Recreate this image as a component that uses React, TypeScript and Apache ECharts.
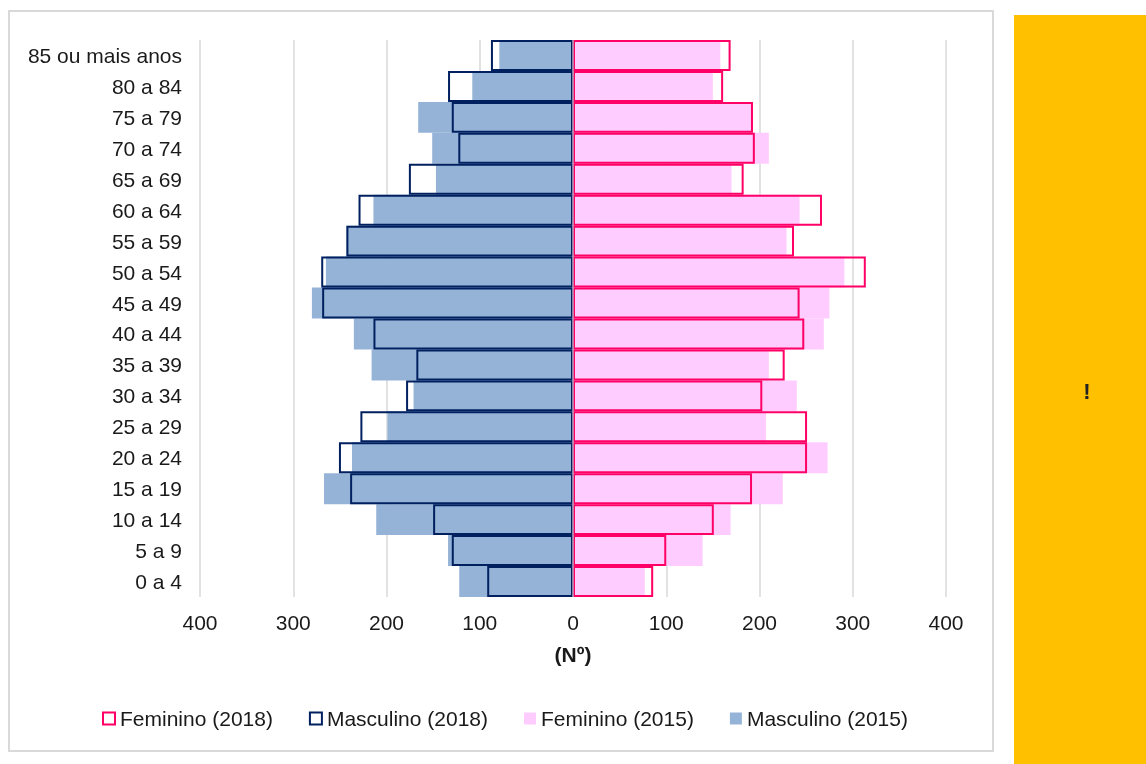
import React, { useEffect, useRef } from "react";
import * as echarts from "echarts";

const categories = [
  "0 a 4", "5 a 9", "10 a 14", "15 a 19", "20 a 24", "25 a 29", "30 a 34", "35 a 39", "40 a 44",
  "45 a 49", "50 a 54", "55 a 59", "60 a 64", "65 a 69", "70 a 74", "75 a 79", "80 a 84", "85 ou mais anos",
];
const masculino2015 = [122, 134, 211, 267, 237, 199, 171, 216, 235, 280, 265, 243, 214, 147, 151, 166, 108, 79];
const masculino2018 = [92, 130, 150, 239, 251, 228, 179, 168, 214, 269, 270, 243, 230, 176, 123, 130, 134, 88];
const feminino2015 = [77, 139, 169, 225, 273, 207, 240, 210, 269, 275, 291, 229, 243, 170, 210, 192, 150, 158];
const feminino2018 = [86, 100, 151, 192, 251, 251, 203, 227, 248, 243, 314, 237, 267, 183, 195, 193, 161, 169];
const xTicks = { min: -400, max: 400, interval: 100 };

const FONT = "'Liberation Sans', Arial, sans-serif";
const NAVY = "#002060";
const RED = "#FF0066";
const BLUE = "#95B3D7";
const PINK = "#FFCCFF";
const FS = 21;

export default function App() {
  const ref = useRef<HTMLDivElement>(null);
  useEffect(() => {
    if (!ref.current) return;
    const chart = echarts.init(ref.current, undefined, { renderer: "svg" });
    chart.setOption({
      animation: false,
      textStyle: { fontFamily: FONT },
      graphic: [
        { type: "rect", z: -10, shape: { x: 9, y: 11, width: 984, height: 740 }, style: { fill: "#fff", stroke: "#D9D9D9", lineWidth: 2 } },
        { type: "rect", z: -10, shape: { x: 1014, y: 15, width: 132, height: 749 }, style: { fill: "#FFC000" } },
        { type: "text", x: 1087, y: 391, style: { text: "!", fontSize: 22, fontWeight: "bold", fill: "#222", align: "center", verticalAlign: "middle", fontFamily: FONT } },
      ],
      grid: { left: 200, right: 200, top: 40, bottom: 167, containLabel: false },
      legend: {
        left: 97,
        top: 703,
        itemWidth: 12,
        itemHeight: 12,
        itemGap: 36,
        textStyle: { fontSize: FS, color: "#1a1a1a", fontFamily: FONT },
        data: [
          { name: "Feminino (2018)", icon: "rect", itemStyle: { color: "#fff", borderColor: RED, borderWidth: 2 } },
          { name: "Masculino (2018)", icon: "rect", itemStyle: { color: "#fff", borderColor: NAVY, borderWidth: 2 } },
          { name: "Feminino (2015)", icon: "rect", itemStyle: { color: PINK, borderWidth: 0 } },
          { name: "Masculino (2015)", icon: "rect", itemStyle: { color: BLUE, borderWidth: 0 } },
        ],
      },
      xAxis: {
        type: "value",
        min: xTicks.min,
        max: xTicks.max,
        interval: xTicks.interval,
        name: "(Nº)",
        nameLocation: "middle",
        nameGap: 47,
        nameTextStyle: { fontSize: FS, fontWeight: "bold", color: "#1a1a1a", fontFamily: FONT },
        axisLine: { show: false },
        axisTick: { show: false },
        axisLabel: { fontSize: FS, color: "#1a1a1a", margin: 15, fontFamily: FONT, formatter: (v: number) => String(Math.abs(v)) },
        splitLine: { show: true, lineStyle: { color: "#D9D9D9", width: 1.5 } },
      },
      yAxis: {
        type: "category",
        data: categories,
        axisLine: { show: false },
        axisTick: { show: false },
        axisLabel: { fontSize: FS, color: "#1a1a1a", margin: 18, fontFamily: FONT },
        splitLine: { show: false },
      },
      series: [
        {
          name: "Masculino (2015)",
          type: "bar",
          barGap: "-100%",
          barCategoryGap: "0%",
          data: masculino2015.map((v) => -v),
          itemStyle: { color: BLUE },
        },
        {
          name: "Feminino (2015)",
          type: "bar",
          barGap: "-100%",
          barCategoryGap: "0%",
          data: feminino2015,
          itemStyle: { color: PINK },
        },
        {
          name: "Masculino (2018)",
          type: "bar",
          barGap: "-100%",
          barCategoryGap: "0%",
          data: masculino2018.map((v) => -v),
          itemStyle: { color: "rgba(0,0,0,0)", borderColor: NAVY, borderWidth: 2 },
        },
        {
          name: "Feminino (2018)",
          type: "bar",
          barGap: "-100%",
          barCategoryGap: "0%",
          data: feminino2018,
          itemStyle: { color: "rgba(0,0,0,0)", borderColor: RED, borderWidth: 2 },
          markLine: {
            silent: true,
            symbol: "none",
            label: { show: false },
            lineStyle: { color: "#BFA3BC", width: 1.5, type: "solid" },
            data: [{ xAxis: 0 }],
          },
        },
      ],
    });
    return () => chart.dispose();
  }, []);
  return (
    <div style={{ position: "fixed", left: 0, top: 0, width: 1146, height: 764, overflow: "hidden" }}>
      <div ref={ref} style={{ width: 1146, height: 764 }} />
    </div>
  );
}
